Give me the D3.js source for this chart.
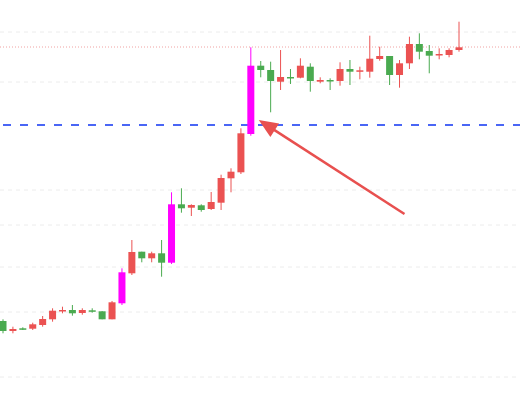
<!DOCTYPE html>
<html>
<head>
<meta charset="utf-8">
<script src="https://cdn.jsdelivr.net/npm/d3@7"></script>
<style>
  body { margin: 0; background: #fff; }
</style>
</head>
<body>
<svg id="chart" width="520" height="400"></svg>
<script>
// candle data: open, close, high, low
const opens  = [79, 69, 71.7, 71.3, 75, 80.7, 88.7, 90, 87, 89.7, 88.7, 80.7, 96.7, 126.7, 148.3, 141.7, 146.7, 137.3, 195.7, 192.3, 194.7, 191, 197.3, 221.7, 227.7, 266, 334.3, 330, 318.3, 323, 322.3, 333.3, 318.3, 320, 319, 331, 329, 328.3, 341, 344, 325, 336.7, 356, 349, 344.7, 345, 350];
const closes = [69, 71, 70.7, 75.7, 81, 89.3, 90, 86.7, 90, 88.3, 80.7, 97.7, 127.7, 148, 141.7, 146.7, 137.3, 195.7, 191.7, 195, 190, 198, 222, 228.3, 266.7, 334.3, 330, 319, 323, 322.3, 334.3, 319, 320, 318.7, 331, 328.3, 329.7, 341.3, 344, 325, 336.7, 356, 348.3, 344.3, 346, 350, 352.7];
const highs  = [80.7, 73.3, 72.7, 77.3, 84, 91.7, 93.3, 95, 91.7, 91.7, 89, 99, 131.7, 160, 148.3, 148.3, 160, 207.7, 211.7, 195.7, 195.7, 208, 225.3, 231.7, 271.7, 352.7, 339, 338.3, 350, 331, 341.7, 336.7, 322.7, 321.7, 337.7, 340, 333.3, 364.3, 353.3, 344, 340, 363.3, 366.7, 355, 351.7, 351.7, 378.3];
const lows   = [66.7, 66.7, 70, 70, 73.3, 78.3, 86.7, 84.3, 85.3, 87.3, 80.7, 80.7, 95, 125, 137.7, 137.7, 123.3, 136, 187.3, 184, 188.3, 190, 190, 207.7, 226, 264.3, 322.7, 287.7, 310, 316, 321.7, 308.3, 316.7, 310, 314.3, 315, 320.7, 322.3, 339.3, 315, 312.3, 331, 340.7, 326.7, 340.7, 342.7, 348.3];
const highlighted = [12, 17, 25];
const gridValues = [368, 318, 210, 175, 133, 88, 23];
const supportLevel = 275;
const topLevel = 353;
const arrowFrom = { i: 40.5, p: 186 };
const arrowTo = { i: 25.8, p: 280 };

const width = 520, height = 400;
const svg = d3.select('#chart');

const x = d3.scaleLinear().domain([0, opens.length - 1]).range([3, 459]);
const y = d3.scaleLinear().domain([0, 400]).range([height, 0]);

const up = '#eb5252', down = '#4aaa50', hl = '#ff00ff';

// grid
svg.append('g').selectAll('line')
    .data(gridValues)
    .enter()
    .append('line')
    .attr('x1', 0).attr('x2', width)
    .attr('y1', d => y(d)).attr('y2', d => y(d))
    .attr('stroke', '#ececec')
    .attr('stroke-dasharray', '4,4');

// red dotted top line
svg.append('line')
    .attr('x1', 0).attr('x2', width)
    .attr('y1', y(topLevel)).attr('y2', y(topLevel))
    .attr('stroke', '#ec8a8a')
    .attr('stroke-width', 0.8)
    .attr('stroke-dasharray', '1,2');

// blue dashed line
svg.append('line')
    .attr('x1', 3).attr('x2', width)
    .attr('y1', y(supportLevel)).attr('y2', y(supportLevel))
    .attr('stroke', '#4a66f5')
    .attr('stroke-width', 2)
    .attr('stroke-dasharray', '8,9');

const candles = opens.map((o, i) => ({
    i, open: o, close: closes[i], high: highs[i], low: lows[i],
    color: highlighted.includes(i) ? hl : (closes[i] >= o ? up : down)
}));

const g = svg.append('g').selectAll('g')
    .data(candles)
    .enter()
    .append('g');

g.append('line')
    .attr('x1', d => x(d.i)).attr('x2', d => x(d.i))
    .attr('y1', d => y(d.high)).attr('y2', d => y(d.low))
    .attr('stroke', d => d.color)
    .attr('stroke-width', 1);

g.append('rect')
    .attr('x', d => x(d.i) - 3.5)
    .attr('width', 7)
    .attr('y', d => y(Math.max(d.open, d.close)))
    .attr('height', d => Math.max(1.5, Math.abs(y(d.open) - y(d.close))))
    .attr('fill', d => d.color);

// arrow
const x1 = x(arrowFrom.i), y1 = y(arrowFrom.p), x2 = x(arrowTo.i), y2 = y(arrowTo.p);
const ang = Math.atan2(y2 - y1, x2 - x1);
const headLen = 19, headW = 8;
const bx = x2 - headLen * Math.cos(ang), by = y2 - headLen * Math.sin(ang);
svg.append('line')
    .attr('x1', x1).attr('y1', y1).attr('x2', bx + 3 * Math.cos(ang)).attr('y2', by + 3 * Math.sin(ang))
    .attr('stroke', '#e8504f')
    .attr('stroke-width', 2.5);
svg.append('path')
    .attr('d', d3.line()([
        [x2, y2],
        [bx + headW * Math.sin(ang), by - headW * Math.cos(ang)],
        [bx - headW * Math.sin(ang), by + headW * Math.cos(ang)]
    ]) + 'Z')
    .attr('fill', '#e8504f');
</script>
</body>
</html>
